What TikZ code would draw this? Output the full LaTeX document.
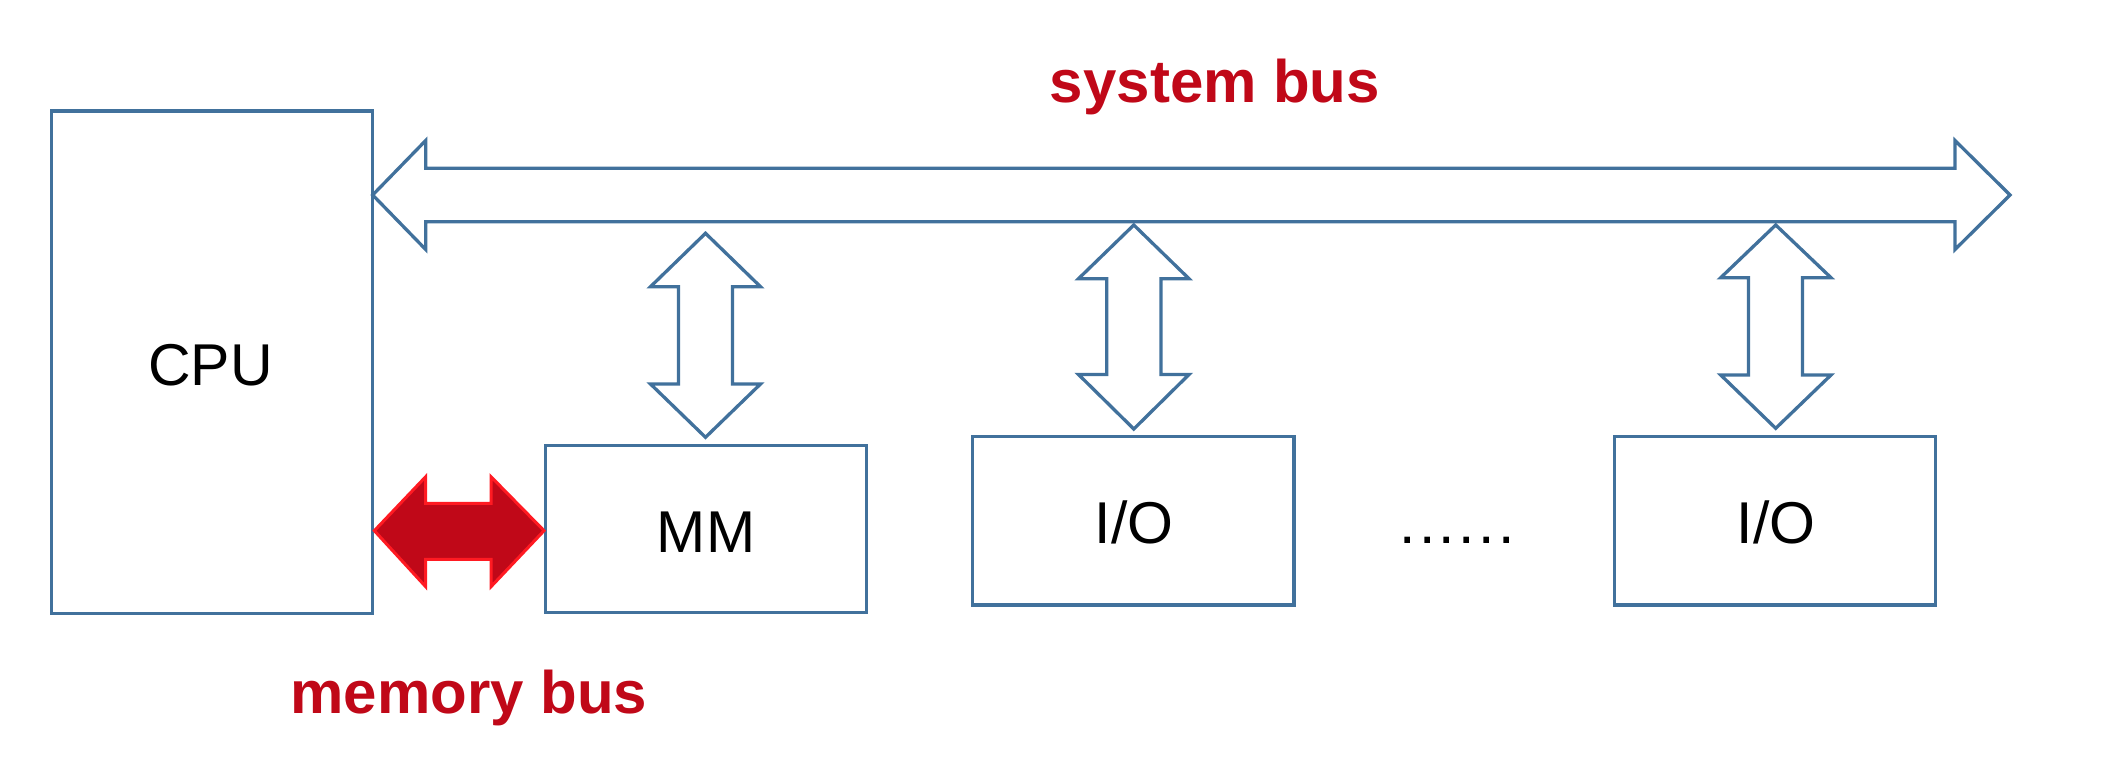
\documentclass[tikz,border=0pt]{standalone}
\usepackage{fontspec}
\setmainfont{Liberation Sans}
\newfontfamily\dotfont[LetterSpace=5.6]{Liberation Sans}
\definecolor{busblue}{HTML}{41719C}
\definecolor{busred}{HTML}{C00818}
\definecolor{edgered}{HTML}{FF1A22}
\begin{document}
\begin{tikzpicture}[x=1pt,y=-1pt,
  unitbox/.style={draw=busblue,line width=3.3pt,fill=none,inner sep=0pt},
  blockarrow/.style={draw=busblue,line width=3.3pt,line join=miter,fill=white},
  redarrow/.style={draw=edgered,line width=3pt,line join=miter,fill=busred},
  plainlabel/.style={font=\fontsize{59}{70}\selectfont,text=black,inner sep=0pt,anchor=base},
  buslabel/.style={font=\fontsize{60}{72}\selectfont\bfseries,text=busred,inner sep=0pt,anchor=base}]
\useasboundingbox (0,0) rectangle (2108,776);
% boxes
\node[unitbox,minimum width=321pt,minimum height=502.3pt] (cpu) at (212.2,362.15) {};
\node[unitbox,minimum width=321pt,minimum height=167pt] (mm) at (706.2,529.2) {};
\node[unitbox,minimum width=321.3pt,minimum height=168.3pt] (io1) at (1133.35,520.85) {};
\node[unitbox,minimum width=321pt,minimum height=168.3pt] (io2) at (1775.2,520.85) {};
% labels
\node[plainlabel] (cpulbl) at (210.5,385) {CPU};
\node[plainlabel] (mmlbl) at (706,552.7) {MM};
\node[plainlabel] (io1lbl) at (1134.3,543.3) {I/O};
\node[plainlabel] (io2lbl) at (1776,543.3) {I/O};
\node[plainlabel,font=\fontsize{59}{70}\dotfont] (dots) at (1457,543.7) {......};
\node[buslabel] (syslbl) at (1215,102.7) {system bus};
\node[buslabel] (memlbl) at (469,713) {memory bus};
% system bus
\draw[blockarrow] (372.7,195) -- (425.7,140.5) -- (425.7,168.3) -- (1955,168.3) -- (1955,140.5)
  -- (2010,195) -- (1955,249.5) -- (1955,221.7) -- (425.7,221.7) -- (425.7,249.5) -- cycle;
% vertical arrows
\draw[blockarrow] (705.5,233.3) -- (760.5,286.7) -- (732.5,286.7) -- (732.5,384) -- (760.5,384)
  -- (705.5,437.3) -- (650.5,384) -- (678.5,384) -- (678.5,286.7) -- (650.5,286.7) -- cycle;
\draw[blockarrow] (1133.8,225) -- (1189,278.7) -- (1161,278.7) -- (1161,374.5) -- (1189,374.5)
  -- (1133.8,429) -- (1078.5,374.5) -- (1106.7,374.5) -- (1106.7,278.7) -- (1078.5,278.7) -- cycle;
\draw[blockarrow] (1775.7,225) -- (1831,277.7) -- (1802.5,277.7) -- (1802.5,375) -- (1831,375)
  -- (1775.7,428.3) -- (1720.7,375) -- (1748.5,375) -- (1748.5,277.7) -- (1720.7,277.7) -- cycle;
% memory bus
\draw[redarrow] (cpu.east |- 0,530.7) -- (425.7,476.7) -- (425.7,503.3) -- (491,503.3) -- (491,476.7)
  -- (mm.west |- 0,530.7) -- (491,586.7) -- (491,559.3) -- (425.7,559.3) -- (425.7,586.7) -- cycle;
\end{tikzpicture}
\end{document}
